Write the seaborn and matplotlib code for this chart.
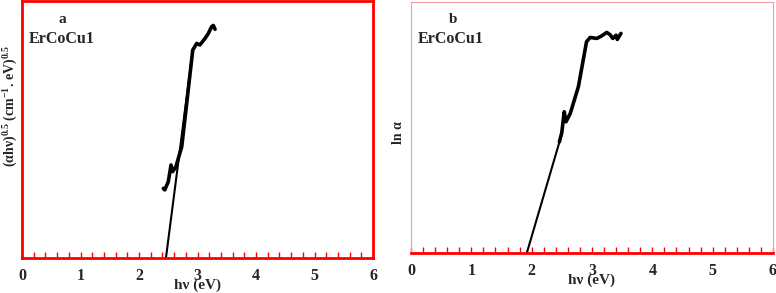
import seaborn as sns
import pandas as pd
import matplotlib.pyplot as plt
from matplotlib.ticker import MultipleLocator

# panel a: (ahv)^0.5 vs hv
hv_a = [2.415, 2.44, 2.50, 2.547, 2.575, 2.63, 2.73, 2.815, 2.918, 2.986, 3.04, 3.13, 3.185, 3.24, 3.27, 3.30]
val_a = [0.271, 0.265, 0.297, 0.362, 0.336, 0.355, 0.433, 0.602, 0.809, 0.835, 0.829, 0.855, 0.874, 0.90, 0.905, 0.89]
fit_a_x = [2.46, 2.918]
fit_a_y = [0.0, 0.809]

# panel b: ln a vs hv
hv_b = [2.46, 2.50, 2.54, 2.57, 2.64, 2.775, 2.91, 2.97, 3.08, 3.16, 3.245, 3.30, 3.345, 3.40, 3.42, 3.48]
val_b = [0.443, 0.48, 0.563, 0.523, 0.556, 0.663, 0.842, 0.859, 0.855, 0.865, 0.879, 0.87, 0.855, 0.868, 0.851, 0.875]
fit_b_x = [1.92, 2.47]
fit_b_y = [0.0, 0.45]

xticks = [0, 1, 2, 3, 4, 5, 6]

sns.set_style("white")
plt.rcParams['font.family'] = ['Liberation Serif', 'DejaVu Serif']
plt.rcParams['font.weight'] = 'bold'
plt.rcParams['mathtext.fontset'] = 'custom'
plt.rcParams['mathtext.rm'] = 'Liberation Serif:bold'
plt.rcParams['mathtext.it'] = 'Liberation Serif:bold'
plt.rcParams['mathtext.bf'] = 'Liberation Serif:bold'

fig = plt.figure(figsize=(7.76, 2.93), dpi=100)
ax1 = fig.add_axes([0.0284, 0.1195, 0.4523, 0.877])
ax2 = fig.add_axes([0.5296, 0.1365, 0.4665, 0.8565])

df_a = pd.DataFrame({'hv': hv_a, 'v': val_a})
df_b = pd.DataFrame({'hv': hv_b, 'v': val_b})

sns.lineplot(data=df_a, x='hv', y='v', ax=ax1, color='black', lw=2.6, sort=False)
sns.lineplot(x=fit_a_x, y=fit_a_y, ax=ax1, color='black', lw=1.5)
sns.lineplot(data=df_b, x='hv', y='v', ax=ax2, color='black', lw=2.6, sort=False)
sns.lineplot(x=fit_b_x, y=fit_b_y, ax=ax2, color='black', lw=1.5)

for ax, lab, ylab, ly, lx in [(ax1, 'a', r'(αhν)$^{0.5}$ (cm$^{-1}$. eV)$^{0.5}$', 0.59, -0.006),
                              (ax2, 'b', 'ln α', 0.48, -0.016)]:
    ax.set_xlim(0, 6)
    ax.set_ylim(0, 1)
    ax.set_xticks(xticks)
    ax.xaxis.set_minor_locator(MultipleLocator(0.2))
    ax.set_yticks([])
    ax.tick_params(axis='x', which='both', direction='in', length=4, width=1,
                   color='red', bottom=True, labelsize=11.5, pad=7)
    for t in ax.get_xticklabels():
        t.set_fontweight('bold')
    ax.set_xlabel('hν (eV)', fontsize=11, fontweight='bold', labelpad=-4)
    ax.set_ylabel(ylab, fontsize=10, fontweight='bold')
    ax.yaxis.set_label_coords(lx, ly)
    ax.text(0.115, 0.915, lab, transform=ax.transAxes, ha='center', fontsize=11, fontweight='bold')
    ax.text(0.02, 0.835, 'ErCoCu1', transform=ax.transAxes, ha='left', fontsize=11.5, fontweight='bold')

for s in ax1.spines.values():
    s.set_color('red')
    s.set_linewidth(2)
for s in ax2.spines.values():
    s.set_color('#f0a0a0')
    s.set_linewidth(0.8)
ax2.spines['bottom'].set_color('red')
ax2.spines['bottom'].set_linewidth(2)

fig.savefig('out.png', dpi=100)
